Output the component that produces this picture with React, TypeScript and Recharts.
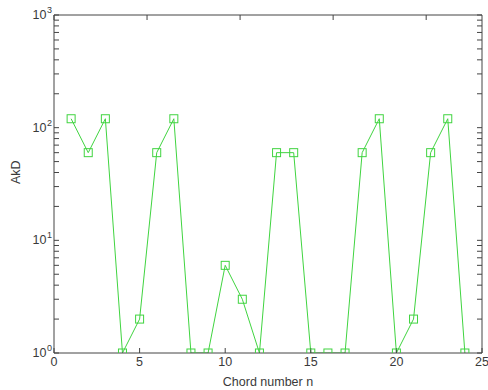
import React from 'react';
import { LineChart, Line, XAxis, YAxis } from 'recharts';

const chordNumbers = [1, 2, 3, 4, 5, 6, 7, 8, 9, 10, 11, 12, 13, 14, 15, 16, 17, 18, 19, 20, 21, 22, 23, 24];
const akdValues = [120, 60, 120, 1, 2, 60, 120, 1, 1, 6, 3, 1, 60, 60, 1, 1, 1, 60, 120, 1, 2, 60, 120, 1];
const xTicks = [0, 5, 10, 15, 20, 25];
const yTicks = [1, 2, 3, 4, 5, 6, 7, 8, 9, 10, 20, 30, 40, 50, 60, 70, 80, 90, 100, 200, 300, 400, 500, 600, 700, 800, 900, 1000];
const yMajor = [1, 10, 100, 1000];

const data = chordNumbers.map((n, i) => ({ n, v: akdValues[i] }));

const AXIS = '#444444';
const TEXT = '#3a3a3a';
const GREEN = '#40d440';
const FONT = '"Liberation Sans", Arial, Helvetica, sans-serif';
const FS = 12.5;

const YLabelTick = (props: any) => {
  const { x, y, payload } = props;
  const v = payload.value;
  if (!yMajor.includes(v)) return <g />;
  const exp = Math.round(Math.log10(v));
  return (
    <text x={x} y={y} textAnchor="end" fill={TEXT} fontSize={FS} fontFamily={FONT}>
      <tspan dy={4}>10</tspan>
      <tspan dx={0.5} dy={-6} fontSize={9}>{exp}</tspan>
    </text>
  );
};

const SquareDot = (props: any) => {
  const { cx, cy, index } = props;
  if (cx == null || cy == null) return <g key={index} />;
  return (
    <rect key={index} x={cx - 4} y={cy - 4} width={8} height={8} fill="none" stroke={GREEN} strokeWidth={1} />
  );
};

export default function App() {
  return (
    <div style={{ position: 'absolute', left: 0, top: 0, background: '#fff' }}>
      <LineChart width={488} height={390} data={data} margin={{ top: 0, right: 0, bottom: 0, left: 0 }}>
        <XAxis
          xAxisId="x"
          dataKey="n"
          type="number"
          domain={[0, 25]}
          ticks={xTicks}
          interval={0}
          allowDataOverflow
          height={37}
          stroke={AXIS}
          tickSize={-5}
          tickMargin={9}
          tick={{ fill: TEXT, fontSize: FS, fontFamily: FONT }}
          label={{ value: 'Chord number n', position: 'insideBottom', offset: 4, fill: TEXT, fontSize: FS, fontFamily: FONT }}
        />
        <XAxis
          xAxisId="top"
          orientation="top"
          type="number"
          domain={[0, 25]}
          ticks={xTicks}
          interval={0}
          allowDataOverflow
          height={15}
          stroke={AXIS}
          tickSize={-5}
          tickFormatter={() => ''}
        />
        <YAxis
          yAxisId="y"
          scale="log"
          domain={[1, 1000]}
          ticks={yTicks}
          interval={0}
          allowDataOverflow
          width={54}
          stroke={AXIS}
          tickSize={-5}
          tickMargin={7}
          tick={<YLabelTick />}
          label={{ value: 'AkD', angle: -90, position: 'insideLeft', offset: 16, fill: TEXT, fontSize: FS, fontFamily: FONT }}
        />
        <YAxis
          yAxisId="right"
          orientation="right"
          scale="log"
          domain={[1, 1000]}
          ticks={yTicks}
          interval={0}
          allowDataOverflow
          width={6}
          stroke={AXIS}
          tickSize={-5}
          tickFormatter={() => ''}
        />
        <Line
          xAxisId="x"
          yAxisId="y"
          dataKey="v"
          type="linear"
          stroke={GREEN}
          strokeWidth={1}
          dot={<SquareDot />}
          isAnimationActive={false}
        />
      </LineChart>
    </div>
  );
}
